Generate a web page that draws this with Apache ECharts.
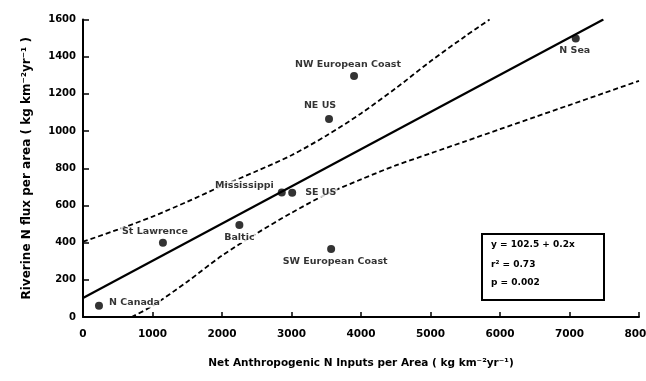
<!DOCTYPE html>
<html>
<head>
<meta charset="utf-8">
<script src="https://cdn.jsdelivr.net/npm/echarts@6/dist/echarts.min.js"></script>
<style>
html,body{margin:0;padding:0;background:#fff;overflow:hidden;}
#chart{width:646px;height:381px;}
</style>
</head>
<body>
<div id="chart"></div>
<script>
// ---- data ----
var siteNames = ['N Canada','St Lawrence','Baltic','Mississippi','SE US','SW European Coast','NE US','NW European Coast','N Sea'];
var siteX = [230, 1150, 2250, 2860, 3010, 3570, 3540, 3900, 7090];
var siteY = [60, 400, 495, 670, 668, 366, 1065, 1296, 1498];

// regression line endpoints (y = 102.5 + 0.2x)
var fitX = [0, 7487];
var fitY = [102.5, 1600];

// upper confidence band
var upperX = [0, 500, 1000, 1500, 2000, 2500, 3000, 3500, 4000, 4500, 5000, 5500, 5850];
var upperY = [405, 470, 540, 620, 705, 785, 870, 975, 1095, 1230, 1375, 1510, 1600];

// lower confidence band
var lowerX = [700, 1000, 1500, 2000, 2500, 3000, 3500, 4000, 4500, 5000, 5500, 6000, 6500, 7000, 7500, 8000];
var lowerY = [0, 60, 190, 330, 450, 560, 660, 740, 815, 880, 945, 1010, 1075, 1140, 1205, 1270];

var xTicks = [0, 1000, 2000, 3000, 4000, 5000, 6000, 7000, 8000];
var yTicks = [0, 200, 400, 600, 800, 1000, 1200, 1400, 1600];

var statLines = ['y = 102.5 + 0.2x', 'r\u00b2 = 0.73', 'p = 0.002'];

// ---- styles ----
var FONT = '"DejaVu Sans", Verdana, sans-serif';
var labelCfg = {
  'N Canada': {position: 'right', distance: 5, offset: [0, -3]},
  'St Lawrence': {position: 'top', distance: 2, offset: [-8, 0]},
  'Baltic': {position: 'bottom', distance: 4, offset: [0, 0]},
  'Mississippi': {position: 'left', distance: 3, offset: [0, -7]},
  'SE US': {position: 'right', distance: 8, offset: [0, 0]},
  'SW European Coast': {position: 'bottom', distance: 4, offset: [4, 0]},
  'NE US': {position: 'top', distance: 4, offset: [-9, 0]},
  'NW European Coast': {position: 'top', distance: 2, offset: [-6, 0]},
  'N Sea': {position: 'bottom', distance: 3, offset: [-1, 0]}
};

function pairs(xs, ys) { return xs.map(function (x, i) { return [x, ys[i]]; }); }

var scatterData = siteNames.map(function (n, i) {
  var c = labelCfg[n];
  return {
    name: n,
    value: [siteX[i], siteY[i]],
    label: {show: true, position: c.position, distance: c.distance, offset: c.offset}
  };
});

var chart = echarts.init(document.getElementById('chart'), null, {renderer: 'canvas'});
chart.setOption({
  animation: false,
  backgroundColor: '#fff',
  grid: {left: 83, right: 7, top: 19.5, bottom: 64, containLabel: false, outerBoundsMode: 'none'},
  xAxis: {
    type: 'value', min: 0, max: 8000, interval: 1000,
    name: 'Net Anthropogenic N Inputs per Area ( kg km\u207b\u00b2yr\u207b\u00b9)',
    nameLocation: 'middle', nameGap: 41,
    nameTextStyle: {fontFamily: FONT, fontWeight: 'bold', fontSize: 10.5, color: '#000'},
    axisLine: {show: true, lineStyle: {color: '#000', width: 2}},
    axisTick: {show: true, inside: true, length: 5, lineStyle: {color: '#000', width: 1.5}},
    axisLabel: {fontFamily: FONT, fontWeight: 'bold', fontSize: 10.5, color: '#000', margin: 12,
      formatter: function (v) { return xTicks.indexOf(v) >= 0 ? String(v) : ''; }},
    splitLine: {show: false}
  },
  yAxis: {
    type: 'value', min: 0, max: 1600, interval: 200,
    name: 'Riverine N flux per area ( kg km\u207b\u00b2yr\u207b\u00b9 )',
    nameLocation: 'middle', nameGap: 50,
    nameTextStyle: {fontFamily: FONT, fontWeight: 'bold', fontSize: 12, color: '#000'},
    axisLine: {show: true, lineStyle: {color: '#000', width: 2}},
    axisTick: {show: true, inside: true, length: 6, lineStyle: {color: '#000', width: 1.5}},
    axisLabel: {fontFamily: FONT, fontWeight: 'bold', fontSize: 10, color: '#000', margin: 7,
      formatter: function (v) { return yTicks.indexOf(v) >= 0 ? String(v) : ''; }},
    splitLine: {show: false}
  },
  series: [
    {
      type: 'line', data: pairs(fitX, fitY), showSymbol: false, symbol: 'none',
      lineStyle: {color: '#000', width: 2.2}, clip: true, z: 3
    },
    {
      type: 'line', data: pairs(upperX, upperY), smooth: 0.3, symbol: 'none',
      lineStyle: {color: '#000', width: 1.8, type: [5, 3]}, clip: true, z: 3
    },
    {
      type: 'line', data: pairs(lowerX, lowerY), smooth: 0.3, symbol: 'none',
      lineStyle: {color: '#000', width: 1.8, type: [5, 3]}, clip: true, z: 3
    },
    {
      type: 'scatter', data: scatterData, symbol: 'circle', symbolSize: 8,
      itemStyle: {color: '#000'},
      label: {fontFamily: FONT, fontWeight: 'bold', fontSize: 9.5, color: '#000',
        formatter: function (p) { return p.name; },
        backgroundColor: '#fff', padding: [0, 1]},
      z: 5
    }
  ],
  graphic: [
    {
      type: 'group', left: 481, top: 233,
      children: [
        {type: 'rect', shape: {x: 0, y: 0, width: 122, height: 66},
         style: {fill: '#fff', stroke: '#000', lineWidth: 2}},
        {type: 'text', x: 9, y: 6, style: {text: statLines[0], font: 'bold 9px ' + FONT, fill: '#000'}},
        {type: 'text', x: 9, y: 26, style: {text: statLines[1], font: 'bold 9px ' + FONT, fill: '#000'}},
        {type: 'text', x: 9, y: 44, style: {text: statLines[2], font: 'bold 9px ' + FONT, fill: '#000'}}
      ]
    }
  ]
});
</script>
</body>
</html>
